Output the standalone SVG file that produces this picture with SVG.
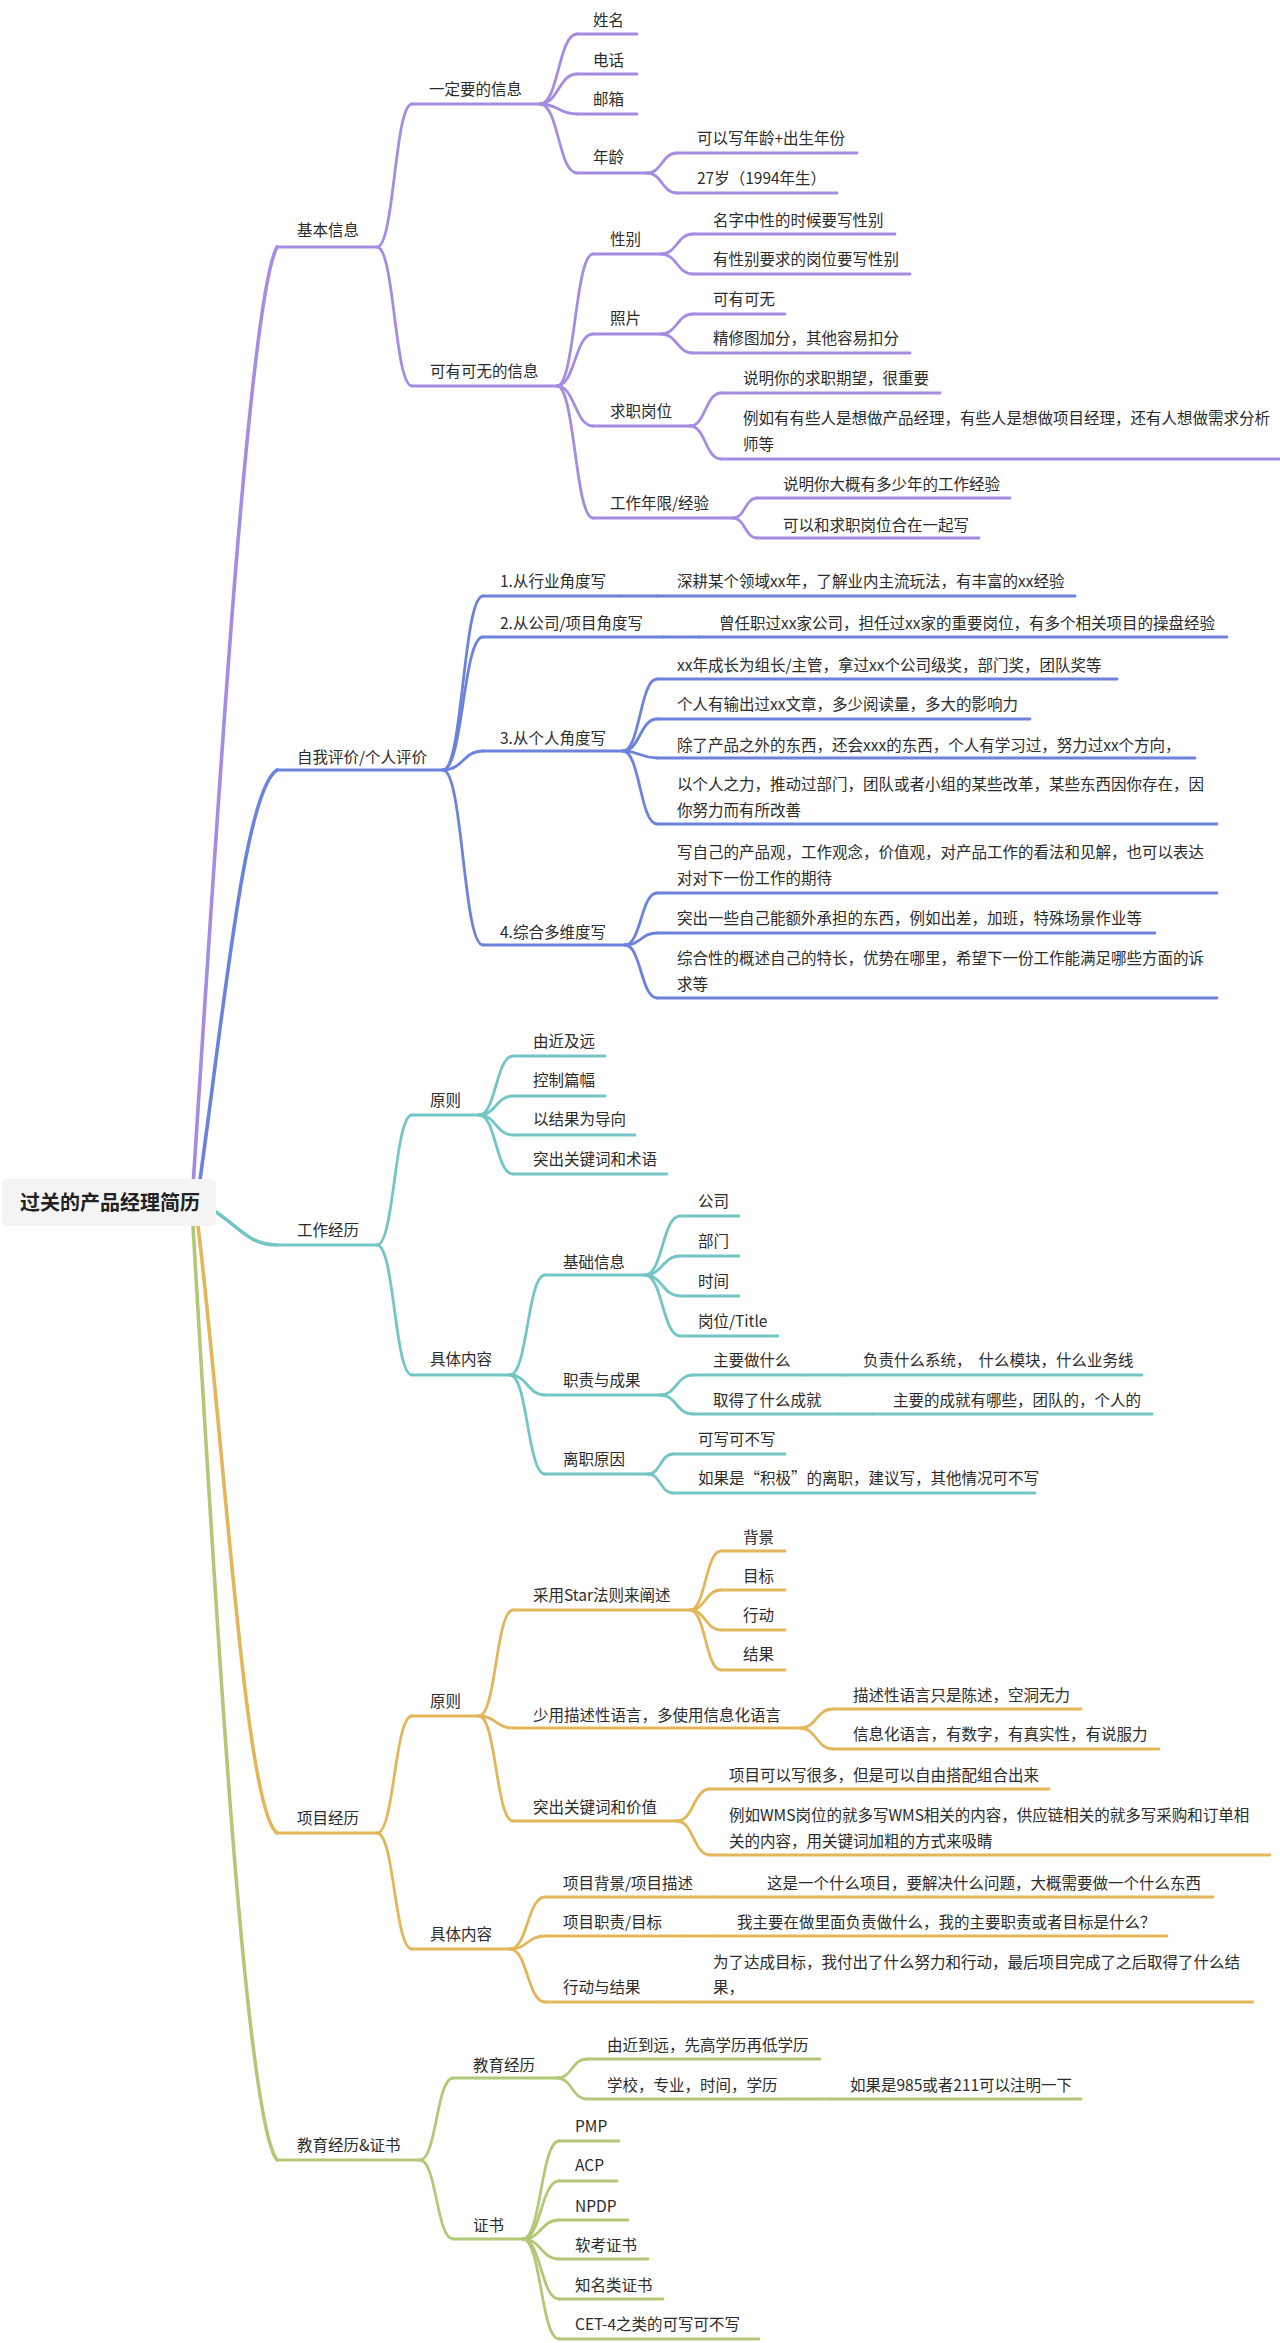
<svg xmlns="http://www.w3.org/2000/svg" width="1280" height="2343" viewBox="0 0 1280 2343">
<style>
.l{fill:none;stroke-width:2.8;stroke-linecap:round}
.r{fill:none;stroke-width:3.6;stroke-linecap:round}
.p{stroke:#a58be2}.b{stroke:#6c82dc}.t{stroke:#74c6c6}.g{stroke:#e3b65a}.e{stroke:#b3c877}
text{font-family:"Noto Sans CJK SC","Liberation Sans",sans-serif;font-size:15.5px;fill:#2b2b2b}
.root{font-size:20px;font-weight:700;fill:#222}
</style>
<rect width="1280" height="2343" fill="#ffffff"/>
<g id="connectors">
<path class="r p" d="M193,1186 C215,850 248,300 277,247"/>
<path class="r b" d="M200,1180 C225,1000 245,790 277,770"/>
<path class="r t" d="M216,1212 C240,1228 250,1245 277,1245"/>
<path class="r g" d="M198,1226 C225,1450 245,1810 277,1833"/>
<path class="r e" d="M193,1226 C215,1600 245,2120 277,2160"/>
<path class="l p" d="M377,247 C394.5,247 394.5,104 412,104"/>
<path class="l p" d="M377,247 C394.5,247 394.5,386 412,386"/>
<path class="l p" d="M540,104 C558.5,104 558.5,34 577,34"/>
<path class="l p" d="M540,104 C558.5,104 558.5,74 577,74"/>
<path class="l p" d="M540,104 C558.5,104 558.5,114 577,114"/>
<path class="l p" d="M540,104 C558.5,104 558.5,173 577,173"/>
<path class="l p" d="M647,173 C662,173 662,153 677,153"/>
<path class="l p" d="M647,173 C662,173 662,193 677,193"/>
<path class="l p" d="M557,386 C575,386 575,254 593,254"/>
<path class="l p" d="M557,386 C575,386 575,334 593,334"/>
<path class="l p" d="M557,386 C575,386 575,426 593,426"/>
<path class="l p" d="M557,386 C575,386 575,518 593,518"/>
<path class="l p" d="M661,254 C677,254 677,234 693,234"/>
<path class="l p" d="M661,254 C677,254 677,274 693,274"/>
<path class="l p" d="M661,334 C677,334 677,314 693,314"/>
<path class="l p" d="M661,334 C677,334 677,353 693,353"/>
<path class="l p" d="M690,426 C705.5,426 705.5,393 721,393"/>
<path class="l p" d="M690,426 C705.5,426 705.5,459 721,459"/>
<path class="l p" d="M733,518 C745,518 745,498 757,498"/>
<path class="l p" d="M733,518 C745,518 745,538 757,538"/>
<path class="l b" d="M443,770 C463,770 463,596 483,596"/>
<path class="l b" d="M443,770 C463,770 463,637 483,637"/>
<path class="l b" d="M443,770 C463,770 463,751 483,751"/>
<path class="l b" d="M443,770 C463,770 463,945 483,945"/>
<path class="l b" d="M620,596 L657,596"/>
<path class="l b" d="M663,637 L699,637"/>
<path class="l b" d="M623,751 C640,751 640,679 657,679"/>
<path class="l b" d="M623,751 C640,751 640,719 657,719"/>
<path class="l b" d="M623,751 C640,751 640,758 657,758"/>
<path class="l b" d="M623,751 C640,751 640,824 657,824"/>
<path class="l b" d="M625,945 C641,945 641,893 657,893"/>
<path class="l b" d="M625,945 C641,945 641,933 657,933"/>
<path class="l b" d="M625,945 C641,945 641,998 657,998"/>
<path class="l t" d="M377,1245 C394.5,1245 394.5,1115 412,1115"/>
<path class="l t" d="M377,1245 C394.5,1245 394.5,1375 412,1375"/>
<path class="l t" d="M479,1115 C496,1115 496,1056 513,1056"/>
<path class="l t" d="M479,1115 C496,1115 496,1096 513,1096"/>
<path class="l t" d="M479,1115 C496,1115 496,1135 513,1135"/>
<path class="l t" d="M479,1115 C496,1115 496,1174 513,1174"/>
<path class="l t" d="M510,1375 C527.5,1375 527.5,1275 545,1275"/>
<path class="l t" d="M510,1375 C527.5,1375 527.5,1395 545,1395"/>
<path class="l t" d="M510,1375 C527.5,1375 527.5,1474 545,1474"/>
<path class="l t" d="M645,1275 C662.5,1275 662.5,1216 680,1216"/>
<path class="l t" d="M645,1275 C662.5,1275 662.5,1256 680,1256"/>
<path class="l t" d="M645,1275 C662.5,1275 662.5,1296 680,1296"/>
<path class="l t" d="M645,1275 C662.5,1275 662.5,1336 680,1336"/>
<path class="l t" d="M660,1395 C676.5,1395 676.5,1375 693,1375"/>
<path class="l t" d="M660,1395 C676.5,1395 676.5,1414 693,1414"/>
<path class="l t" d="M807,1375 L843,1375"/>
<path class="l t" d="M838,1414 L873,1414"/>
<path class="l t" d="M648,1474 C660.5,1474 660.5,1454 673,1454"/>
<path class="l t" d="M648,1474 C660.5,1474 660.5,1493 673,1493"/>
<path class="l g" d="M377,1833 C394.5,1833 394.5,1716 412,1716"/>
<path class="l g" d="M377,1833 C394.5,1833 394.5,1949 412,1949"/>
<path class="l g" d="M479,1716 C496,1716 496,1610 513,1610"/>
<path class="l g" d="M479,1716 C496,1716 496,1728 513,1728"/>
<path class="l g" d="M479,1716 C496,1716 496,1821 513,1821"/>
<path class="l g" d="M690,1610 C705.5,1610 705.5,1551 721,1551"/>
<path class="l g" d="M690,1610 C705.5,1610 705.5,1590 721,1590"/>
<path class="l g" d="M690,1610 C705.5,1610 705.5,1630 721,1630"/>
<path class="l g" d="M690,1610 C705.5,1610 705.5,1670 721,1670"/>
<path class="l g" d="M800,1728 C816.5,1728 816.5,1709 833,1709"/>
<path class="l g" d="M800,1728 C816.5,1728 816.5,1749 833,1749"/>
<path class="l g" d="M677,1821 C693.5,1821 693.5,1789 710,1789"/>
<path class="l g" d="M677,1821 C693.5,1821 693.5,1855 710,1855"/>
<path class="l g" d="M510,1949 C527.5,1949 527.5,1897 545,1897"/>
<path class="l g" d="M510,1949 C527.5,1949 527.5,1936 545,1936"/>
<path class="l g" d="M510,1949 C527.5,1949 527.5,2002 545,2002"/>
<path class="l g" d="M713,1897 L747,1897"/>
<path class="l g" d="M681,1936 L717,1936"/>
<path class="l g" d="M658,2002 L693,2002"/>
<path class="l e" d="M420,2160 C436.5,2160 436.5,2078 453,2078"/>
<path class="l e" d="M420,2160 C436.5,2160 436.5,2239 453,2239"/>
<path class="l e" d="M557,2078 C572,2078 572,2059 587,2059"/>
<path class="l e" d="M557,2078 C572,2078 572,2099 587,2099"/>
<path class="l e" d="M795,2099 L830,2099"/>
<path class="l e" d="M523,2239 C541,2239 541,2141 559,2141"/>
<path class="l e" d="M523,2239 C541,2239 541,2181 559,2181"/>
<path class="l e" d="M523,2239 C541,2239 541,2220 559,2220"/>
<path class="l e" d="M523,2239 C541,2239 541,2259 559,2259"/>
<path class="l e" d="M523,2239 C541,2239 541,2299 559,2299"/>
<path class="l e" d="M523,2239 C541,2239 541,2339 559,2339"/>
</g>
<g id="root"><rect x="2" y="1179" width="214" height="47" rx="5" fill="#f4f4f4"/><text class="root" x="20" y="1210">过关的产品经理简历</text></g>
<g id="n-basic"><line class="l p" x1="277" y1="247" x2="377" y2="247"/><text x="297" y="236">基本信息</text></g>
<g id="n-must"><line class="l p" x1="412" y1="104" x2="540" y2="104"/><text x="429" y="95">一定要的信息</text></g>
<g id="n-name"><line class="l p" x1="577" y1="34" x2="637" y2="34"/><text x="593" y="26">姓名</text></g>
<g id="n-phone"><line class="l p" x1="577" y1="74" x2="637" y2="74"/><text x="593" y="66">电话</text></g>
<g id="n-mail"><line class="l p" x1="577" y1="114" x2="637" y2="114"/><text x="593" y="105">邮箱</text></g>
<g id="n-age"><line class="l p" x1="577" y1="173" x2="647" y2="173"/><text x="593" y="163">年龄</text></g>
<g id="n-age1"><line class="l p" x1="677" y1="153" x2="857" y2="153"/><text x="697" y="144">可以写年龄+出生年份</text></g>
<g id="n-age2"><line class="l p" x1="677" y1="193" x2="837" y2="193"/><text x="697" y="184">27岁（1994年生）</text></g>
<g id="n-opt"><line class="l p" x1="412" y1="386" x2="557" y2="386"/><text x="430" y="377">可有可无的信息</text></g>
<g id="n-sex"><line class="l p" x1="593" y1="254" x2="661" y2="254"/><text x="610" y="245">性别</text></g>
<g id="n-sex1"><line class="l p" x1="693" y1="234" x2="895" y2="234"/><text x="713" y="226">名字中性的时候要写性别</text></g>
<g id="n-sex2"><line class="l p" x1="693" y1="274" x2="910" y2="274"/><text x="713" y="265">有性别要求的岗位要写性别</text></g>
<g id="n-photo"><line class="l p" x1="593" y1="334" x2="661" y2="334"/><text x="610" y="324">照片</text></g>
<g id="n-photo1"><line class="l p" x1="693" y1="314" x2="785" y2="314"/><text x="713" y="305">可有可无</text></g>
<g id="n-photo2"><line class="l p" x1="693" y1="353" x2="910" y2="353"/><text x="713" y="344">精修图加分，其他容易扣分</text></g>
<g id="n-job"><line class="l p" x1="593" y1="426" x2="690" y2="426"/><text x="610" y="417">求职岗位</text></g>
<g id="n-job1"><line class="l p" x1="721" y1="393" x2="940" y2="393"/><text x="743" y="384">说明你的求职期望，很重要</text></g>
<g id="n-job2"><line class="l p" x1="721" y1="459" x2="1280" y2="459"/><text x="743" y="424">例如有有些人是想做产品经理，有些人是想做项目经理，还有人想做需求分析</text><text x="743" y="450">师等</text></g>
<g id="n-years"><line class="l p" x1="593" y1="518" x2="733" y2="518"/><text x="610" y="509">工作年限/经验</text></g>
<g id="n-years1"><line class="l p" x1="757" y1="498" x2="1010" y2="498"/><text x="783" y="490">说明你大概有多少年的工作经验</text></g>
<g id="n-years2"><line class="l p" x1="757" y1="538" x2="979" y2="538"/><text x="783" y="531">可以和求职岗位合在一起写</text></g>
<g id="n-self"><line class="l b" x1="277" y1="770" x2="443" y2="770"/><text x="297" y="763">自我评价/个人评价</text></g>
<g id="n-b1"><line class="l b" x1="483" y1="596" x2="620" y2="596"/><text x="500" y="587">1.从行业角度写</text></g>
<g id="n-b1c"><line class="l b" x1="657" y1="596" x2="1075" y2="596"/><text x="677" y="587">深耕某个领域xx年，了解业内主流玩法，有丰富的xx经验</text></g>
<g id="n-b2"><line class="l b" x1="483" y1="637" x2="663" y2="637"/><text x="500" y="629">2.从公司/项目角度写</text></g>
<g id="n-b2c"><line class="l b" x1="699" y1="637" x2="1227" y2="637"/><text x="719" y="629">曾任职过xx家公司，担任过xx家的重要岗位，有多个相关项目的操盘经验</text></g>
<g id="n-b3"><line class="l b" x1="483" y1="751" x2="623" y2="751"/><text x="500" y="744">3.从个人角度写</text></g>
<g id="n-b3a"><line class="l b" x1="657" y1="679" x2="1117" y2="679"/><text x="677" y="671">xx年成长为组长/主管，拿过xx个公司级奖，部门奖，团队奖等</text></g>
<g id="n-b3b"><line class="l b" x1="657" y1="719" x2="1030" y2="719"/><text x="677" y="710">个人有输出过xx文章，多少阅读量，多大的影响力</text></g>
<g id="n-b3c"><line class="l b" x1="657" y1="758" x2="1195" y2="758"/><text x="677" y="751">除了产品之外的东西，还会xxx的东西，个人有学习过，努力过xx个方向，</text></g>
<g id="n-b3d"><line class="l b" x1="657" y1="824" x2="1217" y2="824"/><text x="677" y="790">以个人之力，推动过部门，团队或者小组的某些改革，某些东西因你存在，因</text><text x="677" y="816">你努力而有所改善</text></g>
<g id="n-b4"><line class="l b" x1="483" y1="945" x2="625" y2="945"/><text x="500" y="938">4.综合多维度写</text></g>
<g id="n-b4a"><line class="l b" x1="657" y1="893" x2="1217" y2="893"/><text x="677" y="858">写自己的产品观，工作观念，价值观，对产品工作的看法和见解，也可以表达</text><text x="677" y="884">对对下一份工作的期待</text></g>
<g id="n-b4b"><line class="l b" x1="657" y1="933" x2="1155" y2="933"/><text x="677" y="924">突出一些自己能额外承担的东西，例如出差，加班，特殊场景作业等</text></g>
<g id="n-b4c"><line class="l b" x1="657" y1="998" x2="1217" y2="998"/><text x="677" y="964">综合性的概述自己的特长，优势在哪里，希望下一份工作能满足哪些方面的诉</text><text x="677" y="990">求等</text></g>
<g id="n-work"><line class="l t" x1="277" y1="1245" x2="377" y2="1245"/><text x="297" y="1236">工作经历</text></g>
<g id="n-w1"><line class="l t" x1="412" y1="1115" x2="479" y2="1115"/><text x="430" y="1106">原则</text></g>
<g id="n-w1a"><line class="l t" x1="513" y1="1056" x2="605" y2="1056"/><text x="533" y="1047">由近及远</text></g>
<g id="n-w1b"><line class="l t" x1="513" y1="1096" x2="605" y2="1096"/><text x="533" y="1086">控制篇幅</text></g>
<g id="n-w1c"><line class="l t" x1="513" y1="1135" x2="635" y2="1135"/><text x="533" y="1125">以结果为导向</text></g>
<g id="n-w1d"><line class="l t" x1="513" y1="1174" x2="667" y2="1174"/><text x="533" y="1165">突出关键词和术语</text></g>
<g id="n-w2"><line class="l t" x1="412" y1="1375" x2="510" y2="1375"/><text x="430" y="1365">具体内容</text></g>
<g id="n-w2a"><line class="l t" x1="545" y1="1275" x2="645" y2="1275"/><text x="563" y="1268">基础信息</text></g>
<g id="n-w2a1"><line class="l t" x1="680" y1="1216" x2="739" y2="1216"/><text x="698" y="1207">公司</text></g>
<g id="n-w2a2"><line class="l t" x1="680" y1="1256" x2="739" y2="1256"/><text x="698" y="1247">部门</text></g>
<g id="n-w2a3"><line class="l t" x1="680" y1="1296" x2="739" y2="1296"/><text x="698" y="1287">时间</text></g>
<g id="n-w2a4"><line class="l t" x1="680" y1="1336" x2="778" y2="1336"/><text x="698" y="1327">岗位/Title</text></g>
<g id="n-w2b"><line class="l t" x1="545" y1="1395" x2="660" y2="1395"/><text x="563" y="1386">职责与成果</text></g>
<g id="n-w2b1"><line class="l t" x1="693" y1="1375" x2="807" y2="1375"/><text x="713" y="1366">主要做什么</text></g>
<g id="n-w2b1c"><line class="l t" x1="843" y1="1375" x2="1142" y2="1375"/><text x="863" y="1366" xml:space="preserve">负责什么系统，  什么模块，什么业务线</text></g>
<g id="n-w2b2"><line class="l t" x1="693" y1="1414" x2="838" y2="1414"/><text x="713" y="1406">取得了什么成就</text></g>
<g id="n-w2b2c"><line class="l t" x1="873" y1="1414" x2="1152" y2="1414"/><text x="893" y="1406">主要的成就有哪些，团队的，个人的</text></g>
<g id="n-w2c"><line class="l t" x1="545" y1="1474" x2="648" y2="1474"/><text x="563" y="1465">离职原因</text></g>
<g id="n-w2c1"><line class="l t" x1="673" y1="1454" x2="785" y2="1454"/><text x="698" y="1445">可写可不写</text></g>
<g id="n-w2c2"><line class="l t" x1="673" y1="1493" x2="1035" y2="1493"/><text x="698" y="1484">如果是“积极”的离职，建议写，其他情况可不写</text></g>
<g id="n-proj"><line class="l g" x1="277" y1="1833" x2="377" y2="1833"/><text x="297" y="1824">项目经历</text></g>
<g id="n-p1"><line class="l g" x1="412" y1="1716" x2="479" y2="1716"/><text x="430" y="1707">原则</text></g>
<g id="n-p1a"><line class="l g" x1="513" y1="1610" x2="690" y2="1610"/><text x="533" y="1601">采用Star法则来阐述</text></g>
<g id="n-p1a1"><line class="l g" x1="721" y1="1551" x2="785" y2="1551"/><text x="743" y="1543">背景</text></g>
<g id="n-p1a2"><line class="l g" x1="721" y1="1590" x2="785" y2="1590"/><text x="743" y="1582">目标</text></g>
<g id="n-p1a3"><line class="l g" x1="721" y1="1630" x2="785" y2="1630"/><text x="743" y="1621">行动</text></g>
<g id="n-p1a4"><line class="l g" x1="721" y1="1670" x2="785" y2="1670"/><text x="743" y="1660">结果</text></g>
<g id="n-p1b"><line class="l g" x1="513" y1="1728" x2="800" y2="1728"/><text x="533" y="1721">少用描述性语言，多使用信息化语言</text></g>
<g id="n-p1b1"><line class="l g" x1="833" y1="1709" x2="1081" y2="1709"/><text x="853" y="1701">描述性语言只是陈述，空洞无力</text></g>
<g id="n-p1b2"><line class="l g" x1="833" y1="1749" x2="1159" y2="1749"/><text x="853" y="1740">信息化语言，有数字，有真实性，有说服力</text></g>
<g id="n-p1c"><line class="l g" x1="513" y1="1821" x2="677" y2="1821"/><text x="533" y="1813">突出关键词和价值</text></g>
<g id="n-p1c1"><line class="l g" x1="710" y1="1789" x2="1049" y2="1789"/><text x="729" y="1781">项目可以写很多，但是可以自由搭配组合出来</text></g>
<g id="n-p1c2"><line class="l g" x1="710" y1="1855" x2="1270" y2="1855"/><text x="729" y="1821">例如WMS岗位的就多写WMS相关的内容，供应链相关的就多写采购和订单相</text><text x="729" y="1847">关的内容，用关键词加粗的方式来吸睛</text></g>
<g id="n-p2"><line class="l g" x1="412" y1="1949" x2="510" y2="1949"/><text x="430" y="1940">具体内容</text></g>
<g id="n-p2a"><line class="l g" x1="545" y1="1897" x2="713" y2="1897"/><text x="563" y="1889">项目背景/项目描述</text></g>
<g id="n-p2a1"><line class="l g" x1="747" y1="1897" x2="1213" y2="1897"/><text x="767" y="1889">这是一个什么项目，要解决什么问题，大概需要做一个什么东西</text></g>
<g id="n-p2b"><line class="l g" x1="545" y1="1936" x2="681" y2="1936"/><text x="563" y="1928">项目职责/目标</text></g>
<g id="n-p2b1"><line class="l g" x1="717" y1="1936" x2="1167" y2="1936"/><text x="737" y="1928">我主要在做里面负责做什么，我的主要职责或者目标是什么？</text></g>
<g id="n-p2c"><line class="l g" x1="545" y1="2002" x2="658" y2="2002"/><text x="563" y="1993">行动与结果</text></g>
<g id="n-p2c1"><line class="l g" x1="693" y1="2002" x2="1253" y2="2002"/><text x="713" y="1968">为了达成目标，我付出了什么努力和行动，最后项目完成了之后取得了什么结</text><text x="713" y="1993">果，</text></g>
<g id="n-edu"><line class="l e" x1="277" y1="2160" x2="420" y2="2160"/><text x="297" y="2151">教育经历&amp;证书</text></g>
<g id="n-e1"><line class="l e" x1="453" y1="2078" x2="557" y2="2078"/><text x="473" y="2071">教育经历</text></g>
<g id="n-e1a"><line class="l e" x1="587" y1="2059" x2="820" y2="2059"/><text x="607" y="2051">由近到远，先高学历再低学历</text></g>
<g id="n-e1b"><line class="l e" x1="587" y1="2099" x2="795" y2="2099"/><text x="607" y="2091">学校，专业，时间，学历</text></g>
<g id="n-e1b1"><line class="l e" x1="830" y1="2099" x2="1081" y2="2099"/><text x="850" y="2091">如果是985或者211可以注明一下</text></g>
<g id="n-e2"><line class="l e" x1="453" y1="2239" x2="523" y2="2239"/><text x="473" y="2231">证书</text></g>
<g id="n-e2a"><line class="l e" x1="559" y1="2141" x2="619" y2="2141"/><text x="575" y="2132">PMP</text></g>
<g id="n-e2b"><line class="l e" x1="559" y1="2181" x2="617" y2="2181"/><text x="575" y="2171">ACP</text></g>
<g id="n-e2c"><line class="l e" x1="559" y1="2220" x2="628" y2="2220"/><text x="575" y="2212">NPDP</text></g>
<g id="n-e2d"><line class="l e" x1="559" y1="2259" x2="648" y2="2259"/><text x="575" y="2251">软考证书</text></g>
<g id="n-e2e"><line class="l e" x1="559" y1="2299" x2="663" y2="2299"/><text x="575" y="2291">知名类证书</text></g>
<g id="n-e2f"><line class="l e" x1="559" y1="2339" x2="759" y2="2339"/><text x="575" y="2330">CET-4之类的可写可不写</text></g>
</svg>
